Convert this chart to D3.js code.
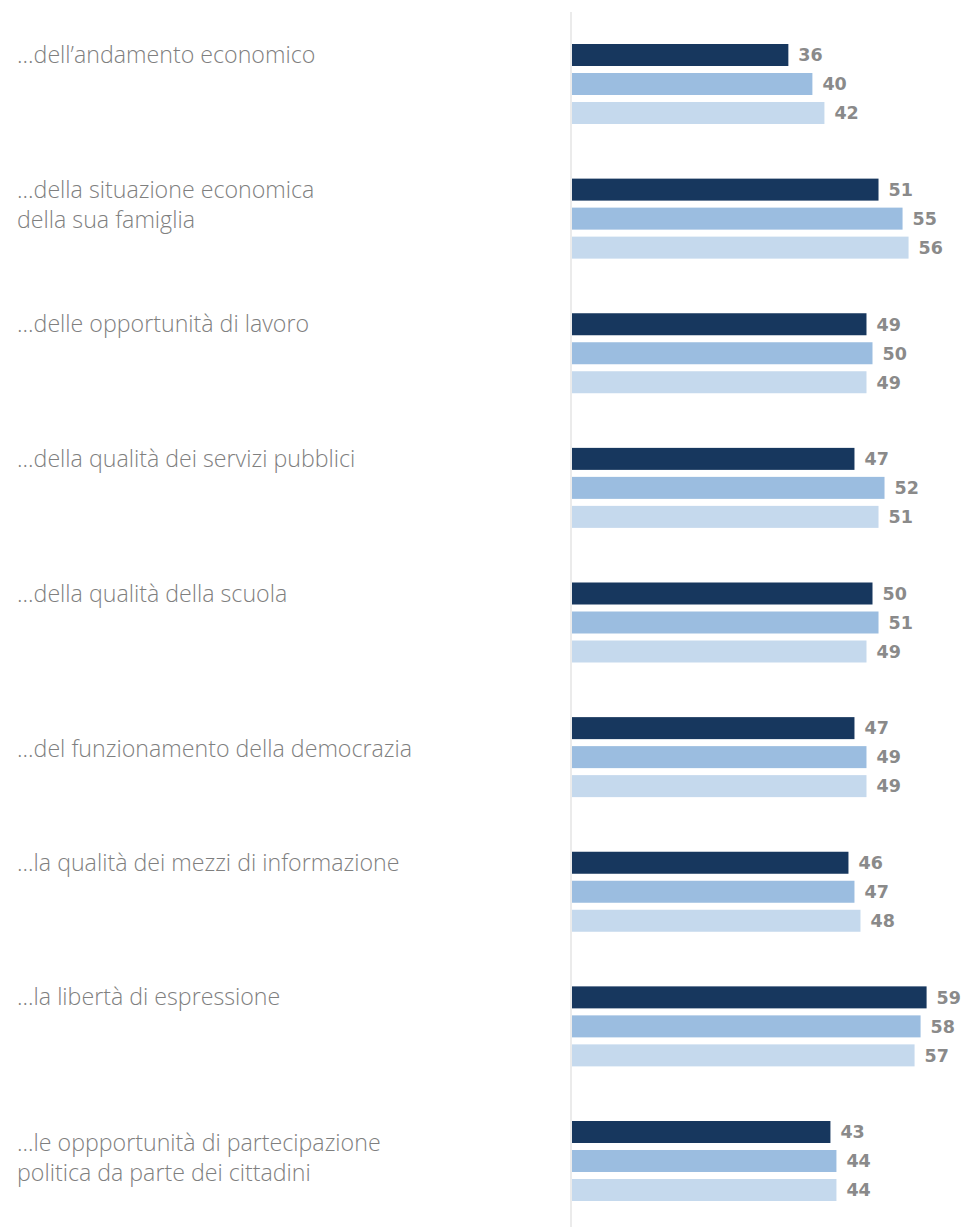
<!DOCTYPE html>
<html>
<head>
<meta charset="utf-8">
<script src="https://cdn.jsdelivr.net/npm/d3@7/dist/d3.min.js"></script>
<style>
  html, body { margin: 0; padding: 0; background: #fff; }
  svg { display: block; }
</style>
</head>
<body>
<script>
// ---- data ----
const categories = [
  ["...dell’andamento economico"],
  ["...della situazione economica", "della sua famiglia"],
  ["...delle opportunità di lavoro"],
  ["...della qualità dei servizi pubblici"],
  ["...della qualità della scuola"],
  ["...del funzionamento della democrazia"],
  ["...la qualità dei mezzi di informazione"],
  ["...la libertà di espressione"],
  ["...le oppportunità di partecipazione", "politica da parte dei cittadini"]
];
const seriesNames = ["s1", "s2", "s3"];
const series1 = [36, 51, 49, 47, 50, 47, 46, 59, 43];
const series2 = [40, 55, 50, 52, 51, 49, 47, 58, 44];
const series3 = [42, 56, 49, 51, 49, 49, 48, 57, 44];
const seriesValues = [series1, series2, series3];

// ---- layout ----
const W = 962, H = 1227;
const colors = ["#17375e", "#9bbde0", "#c5d9ed"];
const labelNudge = [0, 0, 0, 0, 0, 21, 0, 0, 11];

const svg = d3.select("body").append("svg").attr("width", W).attr("height", H);

const keys = categories.map((c, i) => "g" + i);
const y0 = d3.scaleBand().domain(keys).range([44, 44 + 9 * 134.625]).paddingInner(0).paddingOuter(0);
const y1 = d3.scaleBand().domain(seriesNames).range([0, 80]).paddingInner(7 / 29).paddingOuter(0);
const x = d3.scaleLinear().domain([0, 100]).range([572, 572 + 601]);

// vertical baseline
svg.append("line")
  .attr("x1", x(0) - 1).attr("x2", x(0) - 1)
  .attr("y1", 12).attr("y2", H)
  .attr("stroke", "#ebebeb").attr("stroke-width", 2);

const groups = svg.selectAll("g.grp").data(categories).join("g")
  .attr("class", "grp")
  .attr("transform", (d, i) => `translate(0,${y0(keys[i])})`);

groups.each(function(cat, i) {
  const g = d3.select(this);
  const rows = seriesNames.map((s, k) => ({ s, k, v: seriesValues[k][i] }));
  g.selectAll("rect").data(rows).join("rect")
    .attr("x", x(0))
    .attr("y", d => y1(d.s))
    .attr("width", d => x(d.v) - x(0))
    .attr("height", y1.bandwidth())
    .attr("fill", d => colors[d.k]);
  g.selectAll("text.val").data(rows).join("text")
    .attr("class", "val")
    .attr("x", d => x(d.v) + 10)
    .attr("y", d => y1(d.s) + y1.bandwidth() / 2)
    .attr("dy", "0.36em")
    .attr("font-family", "'DejaVu Sans', sans-serif")
    .attr("font-weight", 700)
    .attr("font-size", 17.5)
    .attr("fill", "#8a8a8a")
    .text(d => d.v);
  const lbl = g.append("text")
    .attr("x", 17)
    .attr("y", y1.bandwidth() / 2 + 8 + labelNudge[i])
    .attr("font-family", "'Open Sans', sans-serif")
    .attr("font-weight", 300)
    .attr("font-size", 23.2)
    .attr("fill", "#7f7f7f");
  cat.forEach((line, li) => {
    lbl.append("tspan").attr("x", 17).attr("dy", li === 0 ? 0 : 30).text(line);
  });
});
</script>
</body>
</html>
